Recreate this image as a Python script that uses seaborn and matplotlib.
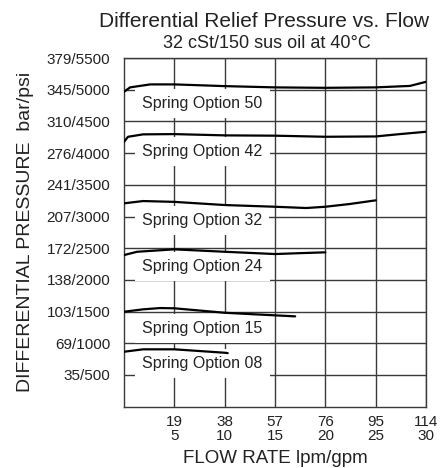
import pandas as pd
import seaborn as sns
import matplotlib
matplotlib.use("Agg")
import matplotlib.pyplot as plt

# tick values / labels
gpm_ticks = [5, 10, 15, 20, 25, 30]
lpm_labels = ['19', '38', '57', '76', '95', '114']
psi_ticks = [500, 1000, 1500, 2000, 2500, 3000, 3500, 4000, 4500, 5000, 5500]
bar_labels = ['35', '69', '103', '138', '172', '207', '241', '276', '310', '345', '379']

# curves (flow in gpm, pressure in psi)
opt50_x = [0, 0.6, 2.6, 5, 10, 15, 20, 25, 28.4, 30]
opt50_y = [4968, 5037, 5084, 5084, 5057, 5037, 5030, 5037, 5060, 5125]
opt42_x = [0, 0.4, 1.9, 5, 10, 15, 20, 25, 27.4, 30]
opt42_y = [4179, 4258, 4296, 4300, 4280, 4275, 4258, 4263, 4300, 4337]
opt32_x = [0, 1.9, 5, 10, 15, 18.1, 20, 22.4, 25]
opt32_y = [3208, 3244, 3231, 3181, 3154, 3134, 3154, 3197, 3255]
opt24_x = [0, 1.3, 5, 10, 15, 17.1, 20]
opt24_y = [2392, 2444, 2482, 2444, 2408, 2420, 2435]
opt15_x = [0, 1.9, 3.6, 5, 10, 12.5, 15, 17]
opt15_y = [1498, 1536, 1556, 1552, 1482, 1461, 1441, 1425]
opt08_x = [0, 1.9, 5, 10, 10.3]
opt08_y = [867, 905, 905, 851, 845]

options = ['50', '42', '32', '24', '15', '08']
curves_x = [opt50_x, opt42_x, opt32_x, opt24_x, opt15_x, opt08_x]
curves_y = [opt50_y, opt42_y, opt32_y, opt24_y, opt15_y, opt08_y]
label_psi = [4785, 4021, 2933, 2208, 1236, 684]

rows = []
for opt, xs, ys in zip(options, curves_x, curves_y):
    for x, y in zip(xs, ys):
        rows.append({'option': opt, 'gpm': x, 'psi': y})
df = pd.DataFrame(rows)

sns.set_style("white")
plt.rcParams['font.family'] = ['Liberation Sans', 'DejaVu Sans']

fig = plt.figure(figsize=(4.45, 4.68), dpi=100)
ax = fig.add_axes([0.2787, 0.131, 0.6787, 0.745])

gridc = '#3a3a3a'
ax.set_xlim(0, 30)
ax.set_ylim(0, 5500)
ax.set_xticks(gpm_ticks)
ax.set_xticklabels([f'{l}\n{g}' for l, g in zip(lpm_labels, gpm_ticks)], fontsize=11, linespacing=1.0)
ax.set_yticks(psi_ticks)
ax.set_yticklabels([f'{b}/{p}' for b, p in zip(bar_labels, psi_ticks)], fontsize=11)
ax.tick_params(length=0, pad=10, colors='#222222')
ax.tick_params(axis='x', pad=6)
ax.grid(True, color=gridc, linewidth=1.0)
ax.set_axisbelow(True)
for s in ax.spines.values():
    s.set_color(gridc)
    s.set_linewidth(1.0)

for opt in options:
    sns.lineplot(data=df[df.option == opt], x='gpm', y='psi', color='black',
                 linewidth=1.6, ax=ax, zorder=5, legend=False)

for opt, ly in zip(options, label_psi):
    ax.text(1.8, ly, f'Spring Option {opt}', fontsize=11.5, va='center', ha='left',
            color='#222222', zorder=3,
            bbox=dict(boxstyle='square,pad=0.45', fc='white', ec='none'))

ax.set_xlabel('FLOW RATE lpm/gpm', fontsize=13.5, color='#222222', labelpad=5)
ax.set_ylabel('DIFFERENTIAL PRESSURE  bar/psi', fontsize=14, color='#222222', labelpad=9)

fig.text(0.593, 0.954, 'Differential Relief Pressure vs. Flow', fontsize=15,
         ha='center', va='center', color='#222222')
fig.text(0.6, 0.908, '32 cSt/150 sus oil at 40\u00b0C', fontsize=13,
         ha='center', va='center', color='#222222')

fig.savefig('out.png', dpi=100)
